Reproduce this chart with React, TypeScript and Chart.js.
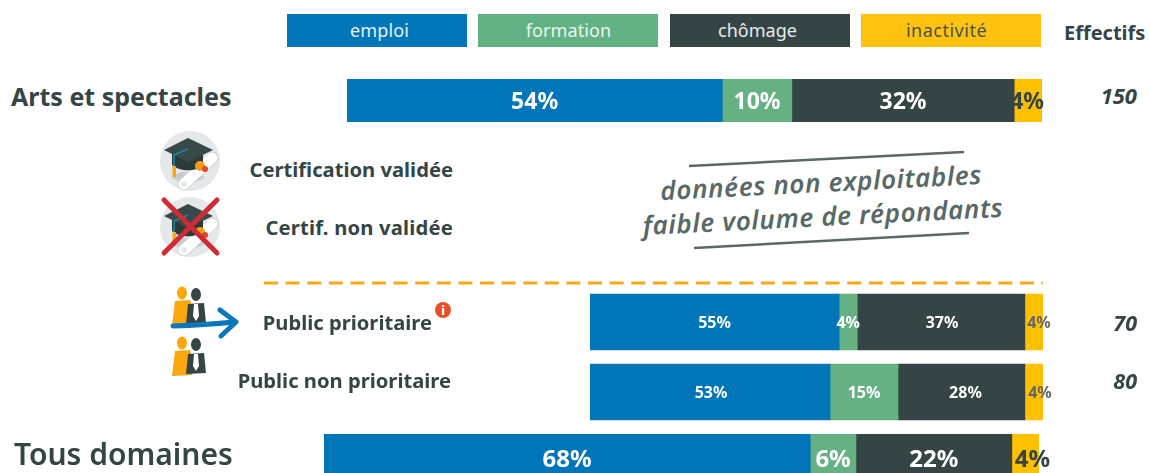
import React, { useEffect, useRef } from "react";
import { Chart, registerables } from "chart.js";

Chart.register(...registerables);

const seriesNames = ["emploi", "formation", "chômage", "inactivité"];
const seriesColors = ["#0075B8", "#66B184", "#354545", "#FFC000"];
const legendTextColors = ["#E8F4FA", "#EAF5EE", "#E6EBEB", "#4A5350"];

const artsCategory = ["Arts et spectacles"];
const artsEmploi = [54];
const artsFormation = [10];
const artsChomage = [32];
const artsInactivite = [4];

const publicCategories = ["Public prioritaire", "Public non prioritaire"];
const publicEmploi = [55, 53];
const publicFormation = [4, 15];
const publicChomage = [37, 28];
const publicInactivite = [4, 4];

const tousCategory = ["Tous domaines"];
const tousEmploi = [68];
const tousFormation = [6.4];
const tousChomage = [21.8];
const tousInactivite = [3.8];

const effectifsLabels = ["150", "70", "80"];
const certifLabels = ["Certification validée", "Certif. non validée"];
const noticeLines = ["données non exploitables", "faible volume de répondants"];

const FONT = "'Noto Sans', sans-serif";
const DARK = "#354545";

const valueLabels = {
  id: "valueLabels",
  afterDatasetsDraw(chart: any, _a: any, opts: any) {
    const ctx = chart.ctx;
    ctx.save();
    ctx.font = `700 ${opts.size}px ${FONT}`;
    ctx.textAlign = "center";
    ctx.textBaseline = "middle";
    chart.data.datasets.forEach((ds: any, d: number) => {
      chart.getDatasetMeta(d).data.forEach((bar: any, i: number) => {
        const c = bar.getCenterPoint();
        ctx.fillStyle = d === 3 ? opts.lastColor : "#FFFFFF";
        const dx = opts.nudges[i] ? opts.nudges[i][d] : 0;
        ctx.fillText(`${Math.round(ds.data[i])}%`, c.x + dx, c.y + opts.dy);
      });
    });
    ctx.restore();
  },
};

function Bars(props: {
  left: number; top: number; barWidth: number; height: number; thickness: number; clipHeight?: number;
  labels: string[]; rows: number[][]; size: number; lastColor: string; nudges: number[][]; dy: number;
}) {
  const ref = useRef<HTMLCanvasElement>(null);
  useEffect(() => {
    const chart = new Chart(ref.current as HTMLCanvasElement, {
      type: "bar",
      plugins: [valueLabels],
      data: {
        labels: props.labels,
        datasets: props.rows.map((data, i) => ({
          label: seriesNames[i],
          data,
          backgroundColor: seriesColors[i],
          barThickness: props.thickness,
          borderWidth: 0,
        })),
      },
      options: {
        indexAxis: "y",
        animation: false,
        responsive: false,
        layout: { padding: { left: 0, top: 0, bottom: 0, right: 24 } },
        scales: {
          x: { stacked: true, min: 0, max: 100, display: false },
          y: { stacked: true, display: false },
        },
        plugins: {
          legend: { display: false },
          tooltip: { enabled: false },
          valueLabels: { size: props.size, lastColor: props.lastColor, nudges: props.nudges, dy: props.dy },
        } as any,
      },
    } as any);
    return () => chart.destroy();
  }, []);
  return (
    <div style={{ position: "absolute", left: props.left, top: props.top, width: props.barWidth + 24, height: props.clipHeight ?? props.height, overflow: "hidden" }}>
      <canvas ref={ref} width={props.barWidth + 24} height={props.height} style={{ display: "block" }} />
    </div>
  );
}

function T(props: { x?: number; right?: number; cy: number; size: number; weight?: number; italic?: boolean; color?: string; spacing?: number; children: React.ReactNode }) {
  return (
    <div style={{
      position: "absolute",
      left: props.x,
      right: props.right !== undefined ? 1149 - props.right : undefined,
      top: props.cy - props.size,
      lineHeight: `${props.size * 2}px`,
      fontFamily: FONT,
      fontSize: props.size,
      fontWeight: props.weight ?? 700,
      fontStyle: props.italic ? "italic" : "normal",
      color: props.color ?? DARK,
      letterSpacing: props.spacing,
      whiteSpace: "nowrap",
    }}>{props.children}</div>
  );
}

function Cap({ cx, cy, crossed }: { cx: number; cy: number; crossed?: boolean }) {
  return (
    <g transform={`translate(${cx} ${cy})`}>
      <circle r={30} fill="#E4E8EA" />
      <ellipse cx={-2} cy={16} rx={16} ry={5} fill="#C9CCCE" />
      <path d="M-6 23 L22 -3" stroke="#C7CDD0" strokeWidth={12.5} strokeLinecap="round" />
      <path d="M-6 23 L22 -3" stroke="#FFFFFF" strokeWidth={11} strokeLinecap="round" />
      <circle cx={-6} cy={23} r={3} fill="#E6EAEC" />
      <path d="M-18 -8 V4 C-10 11 7 11 13 4 V-8 Z" fill="#2C3A3A" />
      <path d="M-2 -23 L23 -11 L-2 1 L-26 -11 Z" fill="#37494B" />
      <path d="M-2 -12 L-16 -6 V6" stroke="#1B8AA8" strokeWidth={1.5} fill="none" />
      <rect x={-17.5} y={5} width={3.5} height={11} fill="#F5A81C" />
      <circle cx={10} cy={5} r={5} fill="#F59A1B" />
      <circle cx={15} cy={8} r={3} fill="#E2452A" />
      {crossed && (
        <g stroke="#CE2B37" strokeWidth={5} strokeLinecap="round">
          <path d="M-26 -27 L27 26" />
          <path d="M27 -27 L-26 26" />
        </g>
      )}
    </g>
  );
}

function People({ dy }: { dy: number }) {
  return (
    <g transform={`translate(0 ${dy})`}>
      <ellipse cx={182} cy={293} rx={5} ry={6.5} fill="#FBA70E" />
      <path d="M175 301 L190 300 L192 306 V325 L172 326 Z" fill="#FBA70E" />
      <ellipse cx={196} cy={294.5} rx={5} ry={6.5} fill={DARK} />
      <path d="M188 304 L204 303 L206 323 L186 324 Z" fill={DARK} />
      <path d="M194 304 L198 304 L199 316 L196 321 L193 316 Z" fill="#FFFFFF" />
    </g>
  );
}

export default function App() {
  return (
    <div style={{ position: "fixed", left: 0, top: 0, width: 1149, height: 473, overflow: "hidden", background: "#FFFFFF" }}>
      {seriesNames.map((name, i) => (
        <div key={name} style={{
          position: "absolute", left: [287, 478, 670, 861][i], top: 14, width: 180, height: 33,
          background: i === 1 ? "#62B286" : i === 3 ? "#FFC20E" : seriesColors[i], color: legendTextColors[i], textAlign: "center",
          lineHeight: "33px", fontFamily: FONT, fontSize: 18, boxSizing: "border-box",
          paddingLeft: [5, 1, 0, 0][i], paddingRight: [0, 0, 5, 9][i], letterSpacing: [0.1, 0.1, 0, 0.5][i],
        }}>{name}</div>
      ))}
      <T x={1064} cy={33} size={20}>Effectifs</T>

      <T x={11} cy={96} size={25}>{artsCategory[0]}</T>
      <Bars left={347} top={79} barWidth={695} height={43} thickness={43} labels={artsCategory}
        rows={[artsEmploi, artsFormation, artsChomage, artsInactivite]} size={23} lastColor={DARK} nudges={[[0, 0, 0, -1]]} dy={2} />
      <T right={1137} cy={95} size={22} italic>{effectifsLabels[0]}</T>

      <T right={453} cy={169} size={20.2}>{certifLabels[0]}</T>
      <T right={453} cy={227} size={20.2} spacing={0.2}>{certifLabels[1]}</T>

      <div style={{ position: "absolute", left: 822, top: 199, width: 0, height: 0, transform: "rotate(-2.9deg)" }}>
        {noticeLines.map((line, i) => (
          <div key={line} style={{
            position: "absolute", left: -220, width: 440, top: i === 0 ? -32 : 2, lineHeight: "30px", textAlign: "center",
            fontFamily: FONT, fontStyle: "italic", fontWeight: 600, fontSize: 26, letterSpacing: 0.65, color: "#586968",
            whiteSpace: "nowrap",
          }}>{line}</div>
        ))}
      </div>

      <svg width={1149} height={473} style={{ position: "absolute", left: 0, top: 0 }}>
        <Cap cx={190} cy={161} />
        <Cap cx={190} cy={227} crossed />
        <path d="M689 166 L964 152" stroke="#586968" strokeWidth={2.4} />
        <path d="M694 248 L969 233" stroke="#586968" strokeWidth={2.4} />
        <path d="M264 283 H1043" stroke="#F9A81A" strokeWidth={3} strokeDasharray="14 7.6" />
        <People dy={0} />
        <People dy={50} />
        <path d="M173 326 Q205 325 234 322" stroke="#0A77BB" strokeWidth={5} fill="none" strokeLinecap="round" />
        <path d="M220 310 L236 322 L221 336" stroke="#0A77BB" strokeWidth={5} fill="none" strokeLinecap="round" strokeLinejoin="round" />
        <circle cx={443} cy={310} r={8} fill="#E8502A" />
        <text x={443} y={315} textAnchor="middle" fontFamily={FONT} fontWeight={800} fontSize={13} fill="#FFFFFF">i</text>
      </svg>

      <T right={432} cy={322} size={20.2}>{publicCategories[0]}</T>
      <T right={451} cy={380} size={20.2}>{publicCategories[1]}</T>
      <Bars left={590} top={287} barWidth={453} height={140} thickness={56} labels={publicCategories}
        rows={[publicEmploi, publicFormation, publicChomage, publicInactivite]} size={16} lastColor="#666666" nudges={[[0, 0, 1, 5], [1, 0, 4, 6]]} dy={1} />
      <T right={1137} cy={322} size={21.5} italic>{effectifsLabels[1]}</T>
      <T right={1137} cy={380} size={21.5} italic>{effectifsLabels[2]}</T>

      <T x={14} cy={454} size={30} weight={600}>{tousCategory[0]}</T>
      <Bars left={324} top={434} barWidth={715} height={50} clipHeight={39} thickness={50} labels={tousCategory}
        rows={[tousEmploi, tousFormation, tousChomage, tousInactivite]} size={24} lastColor={DARK} nudges={[[0, 0, 0, 7]]} dy={1} />
    </div>
  );
}
